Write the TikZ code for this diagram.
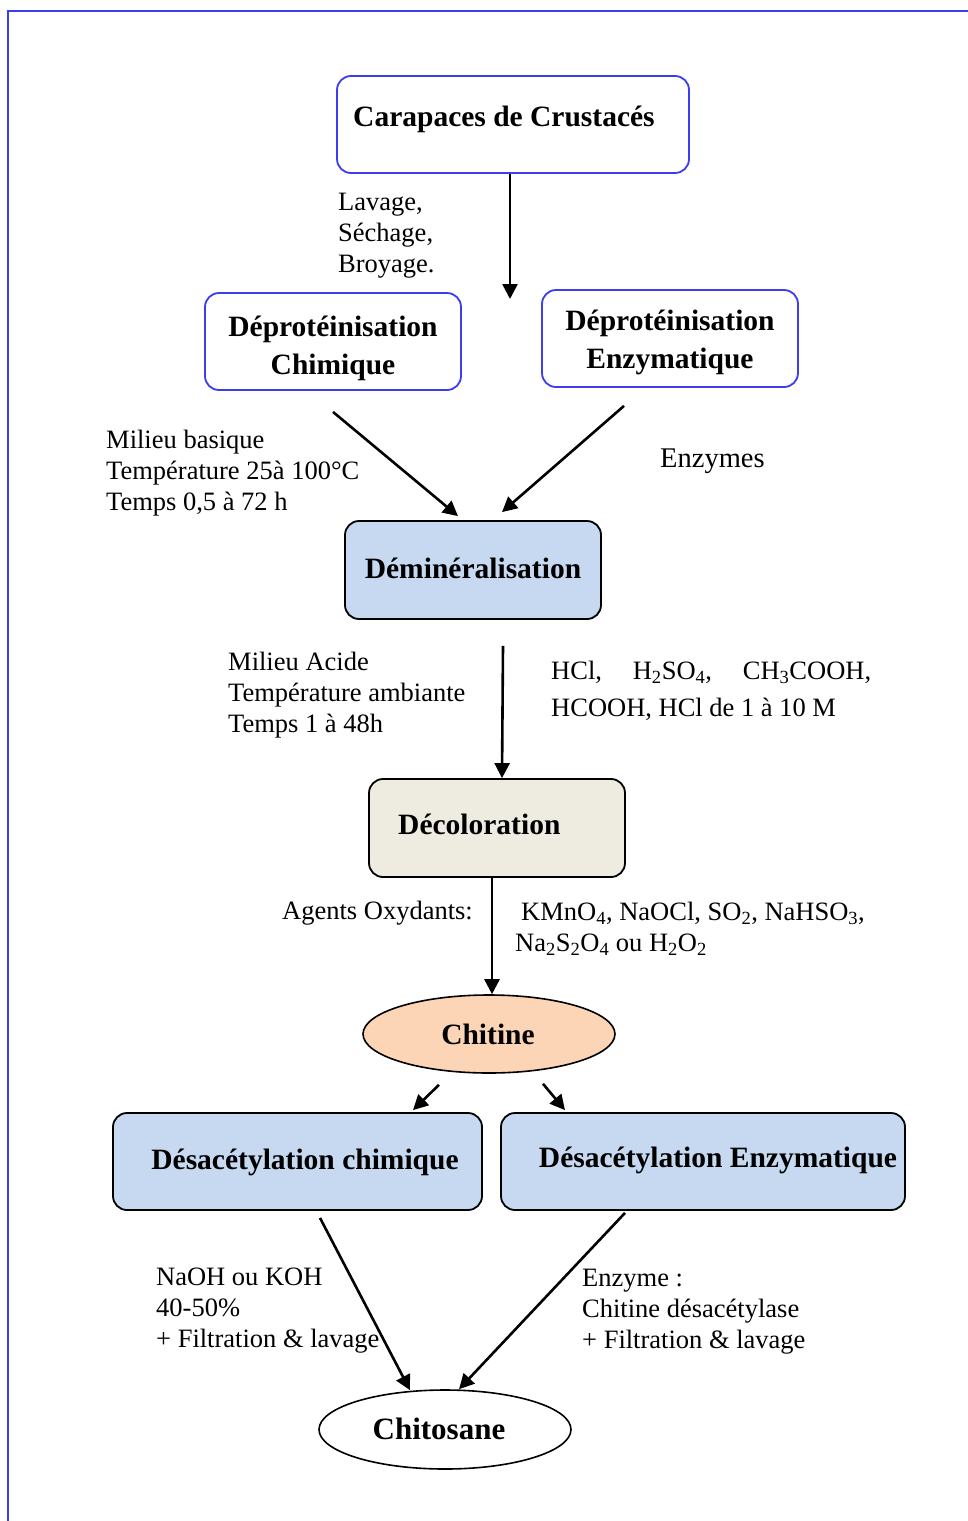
\documentclass[tikz,border=0pt]{standalone}
\usepackage{fontspec}
\setmainfont{Liberation Serif}
\usetikzlibrary{arrows.meta,shapes.geometric}
\definecolor{bluebd}{RGB}{60,60,240}
\definecolor{lblue}{RGB}{198,217,241}
\definecolor{beige}{RGB}{238,236,225}
\definecolor{peach}{RGB}{251,213,181}
\tikzset{
 x=1pt,y=-1pt,
 bluebox/.style={draw=bluebd, line width=1.8pt, rounded corners=14pt, fill=white, inner sep=0, align=center},
 blackbox/.style={draw=black, line width=1.8pt, rounded corners=14pt, inner sep=0, align=center},
 ell/.style={draw=black, line width=1.6pt, ellipse, inner sep=0},
 btxt/.style={font=\fontsize{29.5}{38}\selectfont\bfseries, inner sep=0, align=center},
 ntxt/.style={font=\fontsize{26.5}{31}\selectfont, inner sep=0, align=left},
 arr/.style={line width=2.6pt, -{Triangle[length=15pt,width=15pt]}},
}
\begin{document}
\begin{tikzpicture}
\useasboundingbox (0,0) rectangle (968,1521);
\fill[white] (0,0) rectangle (968,1521);
\draw[bluebd, line width=2.5pt] (8,1521) -- (8,11) -- (968,11);

% boxes
\node[bluebox, minimum width=352pt, minimum height=97pt] (b1) at (513,124.5) {};
\node[btxt, anchor=west] (t1) at (353,119) {Carapaces de Crustacés};
\node[bluebox, minimum width=256pt, minimum height=97pt] (b2) at (333,341.5) {};
\node[btxt] (t2) at (333,348) {Déprotéinisation\\Chimique};
\node[bluebox, minimum width=256pt, minimum height=97pt] (b3) at (670,338.5) {};
\node[btxt] (t3) at (670,342) {Déprotéinisation\\Enzymatique};
\node[blackbox, fill=lblue, minimum width=256pt, minimum height=98pt] (b4) at (473,570) {};
\node[btxt] (t4) at (473,568) {Déminéralisation};
\node[blackbox, fill=beige, minimum width=256pt, minimum height=98pt] (b5) at (497,828) {};
\node[btxt, anchor=west] (t5) at (398,824) {Décoloration};
\node[ell, fill=peach, minimum width=252pt, minimum height=78pt] (chi) at (489,1034) {};
\node[btxt] (tchi) at (488,1034) {Chitine};
\node[blackbox, fill=lblue, minimum width=369pt, minimum height=97pt] (b6) at (297.5,1161.5) {};
\node[btxt] (t6) at (305,1162) {Désacétylation chimique};
\node[blackbox, fill=lblue, minimum width=404pt, minimum height=97pt] (b7) at (703,1161.5) {};
\node[btxt] (t7) at (718,1160) {Désacétylation Enzymatique};
\node[ell, fill=white, minimum width=252pt, minimum height=79pt] (cs) at (445,1429.5) {};
\node[btxt, font=\fontsize{31}{38}\selectfont\bfseries] (tcs) at (439,1429) {Chitosane};

% labels
\node[ntxt, anchor=west] (l1) at (338,236) {Lavage,\\Séchage,\\Broyage.};
\node[ntxt, anchor=west] (l2) at (106,473) {Milieu basique\\Température 25à 100°C\\Temps 0,5 à 72 h};
\node[ntxt, anchor=west, font=\fontsize{28.5}{31}\selectfont] (l3) at (660,461) {Enzymes};
\node[ntxt, anchor=west] (l4) at (228,695) {Milieu Acide\\Température ambiante\\Temps 1 à 48h};
\node[ntxt, anchor=west] (l5) at (551,691) {\makebox[320pt][s]{HCl,\hfill H\textsubscript{2}SO\textsubscript{4},\hfill CH\textsubscript{3}COOH,}\\[6pt]HCOOH, HCl de 1 à 10 M};
\node[ntxt, anchor=west] (l6) at (282,913) {Agents Oxydants:};
\node[ntxt, anchor=west] (l7) at (515,929) {\hspace{6pt}KMnO\textsubscript{4}, NaOCl, SO\textsubscript{2}, NaHSO\textsubscript{3},\\Na\textsubscript{2}S\textsubscript{2}O\textsubscript{4} ou H\textsubscript{2}O\textsubscript{2}};
\node[ntxt, anchor=west] (l8) at (156,1311) {NaOH ou KOH\\40-50\%\\+ Filtration \& lavage};
\node[ntxt, anchor=west] (l9) at (582,1312) {Enzyme :\\Chitine désacétylase\\+ Filtration \& lavage};

% connectors
\coordinate (c1) at (510,299);
\draw[arr] ([xshift=-3pt]b1.south) -- (c1);
\draw[arr] ([yshift=-21pt]b2.south) -- ([xshift=-15pt,yshift=4pt]b4.north);
\draw[arr] ([xshift=-46pt,yshift=-18pt]b3.south) -- ([xshift=29pt,yshift=8pt]b4.north);
\draw[arr] ([xshift=30pt,yshift=-26pt]b4.south) -- ([xshift=5pt]b5.north);
\draw[arr] ([xshift=-5pt]b5.south) -- ([xshift=3pt]chi.north);
\draw[arr] ([xshift=-50pt,yshift=-11pt]chi.south) -- ([xshift=115.5pt,yshift=2pt]b6.north);
\draw[arr] ([xshift=54pt,yshift=-10pt]chi.south) -- ([xshift=-138pt,yshift=2pt]b7.north);
\draw[arr] ([xshift=22.5pt,yshift=-7pt]b6.south) -- ([xshift=-35pt,yshift=-1pt]cs.north);
\draw[arr] ([xshift=-78pt,yshift=-2pt]b7.south) -- ([xshift=14pt]cs.north);
\end{tikzpicture}
\end{document}
